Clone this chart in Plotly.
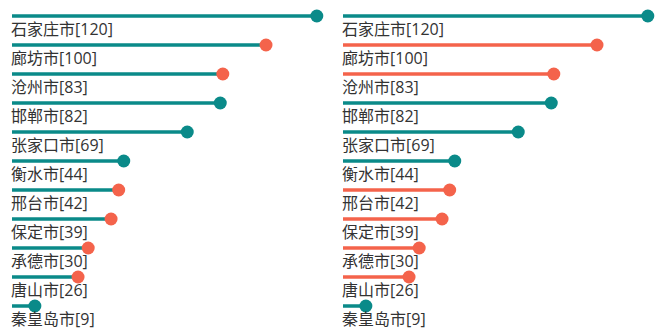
import plotly.graph_objects as go

cities = ['石家庄市', '廊坊市', '沧州市', '邯郸市', '张家口市', '衡水市', '邢台市', '保定市', '承德市', '唐山市', '秦皇岛市']
values = [120, 100, 83, 82, 69, 44, 42, 39, 30, 26, 9]
groups = ['A', 'B', 'B', 'A', 'A', 'A', 'B', 'B', 'B', 'B', 'A']

TEAL = '#0a8a89'
ORANGE = '#f4634b'
cmap = {'A': TEAL, 'B': ORANGE}
FONT = 'Open Sans, Noto Sans CJK SC, sans-serif'

idx = list(range(len(cities)))
labels = [f'{c}[{v}]' for c, v in zip(cities, values)]

fig = go.Figure()


def seg(filter_fn):
    xs, ys = [], []
    for i, v, g in zip(idx, values, groups):
        if filter_fn(g):
            xs += [0, v, None]
            ys += [i, i, None]
    return xs, ys


# Left panel: all stems teal
xs, ys = seg(lambda g: True)
fig.add_trace(go.Scatter(x=xs, y=ys, mode='lines', line=dict(color=TEAL, width=3.5),
                         xaxis='x', yaxis='y', hoverinfo='skip', showlegend=False))
fig.add_trace(go.Scatter(x=values, y=idx, mode='markers',
                         marker=dict(color=[cmap[g] for g in groups], size=13),
                         xaxis='x', yaxis='y', cliponaxis=False, showlegend=False))

# Right panel: stems coloured by group
for g, col in cmap.items():
    xs, ys = seg(lambda gg, g=g: gg == g)
    fig.add_trace(go.Scatter(x=xs, y=ys, mode='lines', line=dict(color=col, width=3.5),
                             xaxis='x2', yaxis='y', hoverinfo='skip', showlegend=False))
fig.add_trace(go.Scatter(x=values, y=idx, mode='markers',
                         marker=dict(color=[cmap[g] for g in groups], size=13),
                         xaxis='x2', yaxis='y', cliponaxis=False, showlegend=False))

annotations = []
for xr in ['x', 'x2']:
    for i, lab in zip(idx, labels):
        annotations.append(dict(x=0, y=i + 0.45, xref=xr, yref='y', text=lab,
                                xanchor='left', yanchor='middle', showarrow=False,
                                xshift=-3,
                                font=dict(size=16, color='#333333', family=FONT)))

px = 2.54
fig.update_layout(
    width=660, height=336,
    margin=dict(l=0, r=0, t=0, b=0),
    plot_bgcolor='white', paper_bgcolor='white',
    xaxis=dict(domain=[0, 0.5], range=[-12 / px, -12 / px + 330 / px], visible=False),
    xaxis2=dict(domain=[0.5, 1], range=[-13 / px, -13 / px + 330 / px], visible=False),
    yaxis=dict(range=[(336 - 16) / 29, -16 / 29], visible=False),
    annotations=annotations,
)

fig.write_html('out.html')
